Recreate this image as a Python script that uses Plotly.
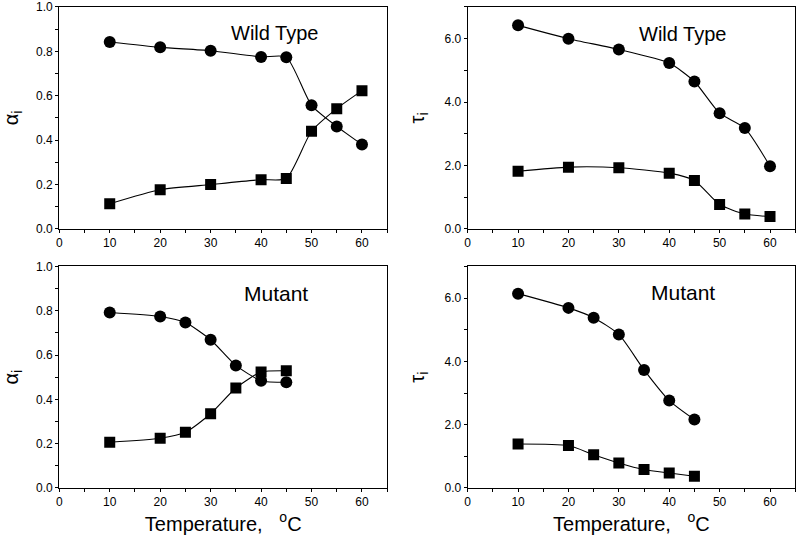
import plotly.graph_objects as go

# ---- data ----
temp_wt = [10, 20, 30, 40, 45, 50, 55, 60]
alpha1_wt = [0.842, 0.818, 0.803, 0.775, 0.774, 0.557, 0.462, 0.380]
alpha2_wt = [0.114, 0.177, 0.200, 0.222, 0.227, 0.440, 0.542, 0.623]
tau1_wt = [6.42, 6.00, 5.66, 5.23, 4.65, 3.65, 3.18, 1.98]
tau2_wt = [1.82, 1.95, 1.93, 1.76, 1.53, 0.77, 0.47, 0.39]

temp_mu = [10, 20, 25, 30, 35, 40, 45]
alpha1_mu = [0.792, 0.774, 0.747, 0.669, 0.553, 0.484, 0.477]
alpha2_mu = [0.206, 0.224, 0.251, 0.335, 0.451, 0.523, 0.529]
tau1_mu = [6.14, 5.69, 5.38, 4.85, 3.73, 2.76, 2.16]
tau2_mu = [1.39, 1.34, 1.05, 0.79, 0.58, 0.47, 0.37]

x_ticks = [0, 10, 20, 30, 40, 50, 60]
alpha_ticks = [0.0, 0.2, 0.4, 0.6, 0.8, 1.0]
tau_ticks = [0.0, 2.0, 4.0, 6.0]

FONT = "Liberation Sans"

fig = go.Figure()

panels = [
    ("x", "y", temp_wt, alpha1_wt, alpha2_wt),
    ("x2", "y2", temp_wt, tau1_wt, tau2_wt),
    ("x3", "y3", temp_mu, alpha1_mu, alpha2_mu),
    ("x4", "y4", temp_mu, tau1_mu, tau2_mu),
]
for xa, ya, t, s1, s2 in panels:
    for vals, sym, size in ((s1, "circle", 12), (s2, "square", 11)):
        fig.add_trace(go.Scatter(
            x=t, y=vals, xaxis=xa, yaxis=ya, mode="lines+markers",
            line=dict(color="black", width=1.1, shape="spline", smoothing=0.6),
            marker=dict(symbol=sym, size=size, color="black"),
            showlegend=False, hoverinfo="skip"))

def xaxis(domain, anchor, title=None):
    d = dict(domain=domain, anchor=anchor, range=[0, 65], automargin=False,
             tickvals=x_ticks, ticktext=[str(v) for v in x_ticks],
             ticks="outside", ticklen=3, tickwidth=1, tickcolor="black",
             minor=dict(dtick=5, tick0=0, ticks="outside", ticklen=3, tickcolor="black"),
             showline=True, linecolor="black", linewidth=1.2, mirror=True,
             showgrid=False, zeroline=False,
             tickfont=dict(family=FONT, size=12, color="black"))
    if title:
        d["title"] = dict(text=title, font=dict(family=FONT, size=20, color="black"), standoff=2)
    return d

def yaxis(domain, anchor, ticks, fmt, rng, minor, title):
    return dict(domain=domain, anchor=anchor, range=rng, automargin=False,
                tickvals=ticks, ticktext=[fmt.format(v) for v in ticks],
                ticks="outside", ticklen=3, tickwidth=1, tickcolor="black",
                minor=dict(dtick=minor, tick0=0, ticks="outside", ticklen=3, tickcolor="black"),
                showline=True, linecolor="black", linewidth=1.2, mirror=True,
                showgrid=False, zeroline=False,
                tickfont=dict(family=FONT, size=12, color="black"),
                title=dict(text=title, font=dict(family=FONT, size=20, color="black"), standoff=14))

xl = [0.0741, 0.484]
xr = [0.5846, 0.994]
yt = [0.572, 0.987]
yb = [0.088, 0.502]
temp_title = "Temperature,\u00a0\u00a0\u00a0<sup>o</sup>C"

fig.update_layout(
    width=800, height=535,
    margin=dict(l=0, r=0, t=0, b=0),
    paper_bgcolor="white", plot_bgcolor="white",
    xaxis=xaxis(xl, "y"),
    xaxis2=xaxis(xr, "y2"),
    xaxis3=xaxis(xl, "y3", temp_title),
    xaxis4=xaxis(xr, "y4", temp_title),
    yaxis=yaxis(yt, "x", alpha_ticks, "{:.1f}", [0, 1.0], 0.1, "α<sub>i</sub>"),
    yaxis2=yaxis(yt, "x2", tau_ticks, "{:.1f}", [0, 7], 1.0, "τ<sub>i</sub>"),
    yaxis3=yaxis(yb, "x3", alpha_ticks, "{:.1f}", [0, 1.0], 0.1, "α<sub>i</sub>"),
    yaxis4=yaxis(yb, "x4", tau_ticks, "{:.1f}", [0, 7], 1.0, "τ<sub>i</sub>"),
    annotations=[
        dict(text="Wild Type", x=42.7, y=0.883, xref="x", yref="y", showarrow=False,
             font=dict(family=FONT, size=20, color="black")),
        dict(text="Wild Type", x=42.7, y=6.16, xref="x2", yref="y2", showarrow=False,
             font=dict(family=FONT, size=20, color="black")),
        dict(text="Mutant", x=42.9, y=0.88, xref="x3", yref="y3", showarrow=False,
             font=dict(family=FONT, size=21, color="black")),
        dict(text="Mutant", x=42.7, y=6.17, xref="x4", yref="y4", showarrow=False,
             font=dict(family=FONT, size=21, color="black")),
    ],
)

fig.write_html("out.html", config={"displayModeBar": False},
               post_script="document.body.style.margin='0';document.body.style.overflow='hidden';")
